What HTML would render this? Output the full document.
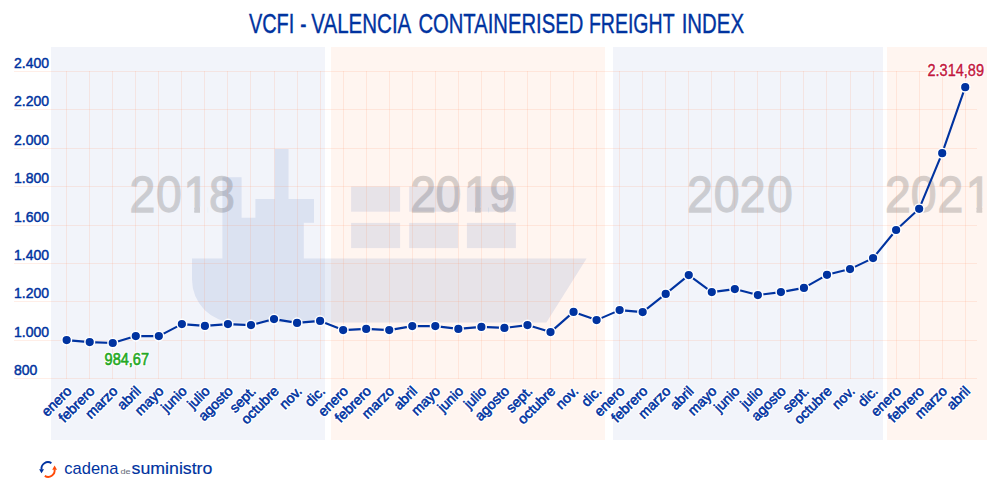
<!DOCTYPE html>
<html lang="es"><head><meta charset="utf-8"><title>VCFI - Valencia Containerised Freight Index</title>
<style>html,body{margin:0;padding:0;background:#fff}body{width:1000px;height:500px;overflow:hidden}svg{display:block}text{font-family:"Liberation Sans",Arial,sans-serif}</style></head><body>
<svg width="1000" height="500" viewBox="0 0 1000 500">
<rect width="1000" height="500" fill="#fff"/>
<rect x="51" y="47" width="274" height="393" fill="#f2f4fa"/>
<rect x="331" y="47" width="274" height="393" fill="#fff5f0"/>
<rect x="613" y="47" width="270" height="393" fill="#f2f4fa"/>
<rect x="887" y="47" width="100" height="393" fill="#fff5f0"/>
<defs><clipPath id="yc"><rect x="0" y="-60" width="1100" height="54.6"/><rect x="136.67" y="-6" width="29.55" height="9"/><rect x="164.78" y="-6" width="29.55" height="9"/><rect x="206.71" y="-6" width="6.06" height="9"/><rect x="221.16" y="-6" width="29.55" height="9"/><rect x="435.29" y="-6" width="29.55" height="9"/><rect x="462.22" y="-6" width="29.55" height="9"/><rect x="505.32" y="-6" width="6.06" height="9"/><rect x="519.60" y="-6" width="29.55" height="9"/><rect x="729.75" y="-6" width="29.55" height="9"/><rect x="758.29" y="-6" width="29.55" height="9"/><rect x="786.03" y="-6" width="29.55" height="9"/><rect x="814.88" y="-6" width="29.55" height="9"/><rect x="940.50" y="-6" width="29.55" height="9"/><rect x="967.86" y="-6" width="29.55" height="9"/><rect x="996.35" y="-6" width="29.55" height="9"/><rect x="1038.83" y="-6" width="6.06" height="9"/></clipPath></defs>
<g transform="translate(0,211.8) scale(0.94,1)" font-size="49.3" fill="#000" stroke="#000" stroke-width="1.3" opacity="0.155"><g clip-path="url(#yc)">
<text x="137.73 165.84 195.16 222.22" y="0">2018</text>
<text x="436.35 463.29 493.78 520.67" y="0">2019</text>
<text x="730.82 759.35 787.10 815.95" y="0">2020</text>
<text x="941.56 968.93 997.41 1027.29" y="0">2021</text>
</g></g>
<g fill="#0033a0" fill-opacity="0.095"><path d="M192,258.4 L222.4,258.4 L222.4,177.2 L241.6,177.2 L241.6,217.8 L255.4,217.8 L255.4,199.1 L274.7,199.1 L274.7,149.1 L288.5,149.1 L288.5,199.1 L314,199.1 L314,222.7 L303.8,222.7 L303.8,258.4 L586.6,258.4 L546.4,322.6 L235,322.6 A43,43 0 0 1 192,279.6 Z"/>
<rect x="351.1" y="186.5" width="49" height="25.2"/>
<rect x="351.1" y="222.9" width="49" height="25.2"/>
<rect x="409.2" y="186.5" width="49" height="25.2"/>
<rect x="409.2" y="222.9" width="49" height="25.2"/>
<rect x="466.9" y="186.5" width="49" height="25.2"/>
<rect x="466.9" y="222.9" width="49" height="25.2"/>
</g>
<g stroke="#ff9067" stroke-opacity="0.155" stroke-width="1" fill="none" shape-rendering="crispEdges">
<line x1="14" y1="71.5" x2="977" y2="71.5"/>
<line x1="14" y1="109.5" x2="977" y2="109.5"/>
<line x1="14" y1="148.5" x2="977" y2="148.5"/>
<line x1="14" y1="186.5" x2="977" y2="186.5"/>
<line x1="14" y1="225.5" x2="977" y2="225.5"/>
<line x1="14" y1="263.5" x2="977" y2="263.5"/>
<line x1="14" y1="301.5" x2="977" y2="301.5"/>
<line x1="14" y1="340.5" x2="977" y2="340.5"/>
<line x1="14" y1="378.5" x2="977" y2="378.5"/>
<line x1="66.5" y1="71" x2="66.5" y2="379"/>
<line x1="89.5" y1="71" x2="89.5" y2="379"/>
<line x1="112.5" y1="71" x2="112.5" y2="379"/>
<line x1="135.5" y1="71" x2="135.5" y2="379"/>
<line x1="158.5" y1="71" x2="158.5" y2="379"/>
<line x1="181.5" y1="71" x2="181.5" y2="379"/>
<line x1="204.5" y1="71" x2="204.5" y2="379"/>
<line x1="227.5" y1="71" x2="227.5" y2="379"/>
<line x1="250.5" y1="71" x2="250.5" y2="379"/>
<line x1="274.5" y1="71" x2="274.5" y2="379"/>
<line x1="297.5" y1="71" x2="297.5" y2="379"/>
<line x1="320.5" y1="71" x2="320.5" y2="379"/>
<line x1="343.5" y1="71" x2="343.5" y2="379"/>
<line x1="366.5" y1="71" x2="366.5" y2="379"/>
<line x1="389.5" y1="71" x2="389.5" y2="379"/>
<line x1="412.5" y1="71" x2="412.5" y2="379"/>
<line x1="435.5" y1="71" x2="435.5" y2="379"/>
<line x1="458.5" y1="71" x2="458.5" y2="379"/>
<line x1="481.5" y1="71" x2="481.5" y2="379"/>
<line x1="504.5" y1="71" x2="504.5" y2="379"/>
<line x1="527.5" y1="71" x2="527.5" y2="379"/>
<line x1="550.5" y1="71" x2="550.5" y2="379"/>
<line x1="573.5" y1="71" x2="573.5" y2="379"/>
<line x1="596.5" y1="71" x2="596.5" y2="379"/>
<line x1="619.5" y1="71" x2="619.5" y2="379"/>
<line x1="642.5" y1="71" x2="642.5" y2="379"/>
<line x1="665.5" y1="71" x2="665.5" y2="379"/>
<line x1="688.5" y1="71" x2="688.5" y2="379"/>
<line x1="711.5" y1="71" x2="711.5" y2="379"/>
<line x1="734.5" y1="71" x2="734.5" y2="379"/>
<line x1="757.5" y1="71" x2="757.5" y2="379"/>
<line x1="780.5" y1="71" x2="780.5" y2="379"/>
<line x1="803.5" y1="71" x2="803.5" y2="379"/>
<line x1="826.5" y1="71" x2="826.5" y2="379"/>
<line x1="850.5" y1="71" x2="850.5" y2="379"/>
<line x1="873.5" y1="71" x2="873.5" y2="379"/>
<line x1="896.5" y1="71" x2="896.5" y2="379"/>
<line x1="919.5" y1="71" x2="919.5" y2="379"/>
<line x1="942.5" y1="71" x2="942.5" y2="379"/>
<line x1="965.5" y1="71" x2="965.5" y2="379"/>
</g>
<g font-size="28" fill="#0033a0" stroke="#0033a0" stroke-width="0.4">
<text x="248.9" y="32.6" textLength="45.4" lengthAdjust="spacingAndGlyphs">VCFI</text>
<text x="300.2" y="32.6" textLength="6.2" lengthAdjust="spacingAndGlyphs">-</text>
<text x="311.3" y="32.6" textLength="100.0" lengthAdjust="spacingAndGlyphs">VALENCIA</text>
<text x="418.4" y="32.6" textLength="164.9" lengthAdjust="spacingAndGlyphs">CONTAINERISED</text>
<text x="588.9" y="32.6" textLength="85.7" lengthAdjust="spacingAndGlyphs">FREIGHT</text>
<text x="681.7" y="32.6" textLength="62.3" lengthAdjust="spacingAndGlyphs">INDEX</text>
</g>
<g font-size="14" fill="#0033a0" stroke="#0033a0" stroke-width="0.45">
<text x="14" y="68.10">2.400</text>
<text x="14" y="106.10">2.200</text>
<text x="14" y="145.10">2.000</text>
<text x="14" y="183.10">1.800</text>
<text x="14" y="222.10">1.600</text>
<text x="14" y="260.10">1.400</text>
<text x="14" y="298.10">1.200</text>
<text x="14" y="337.10">1.000</text>
<text x="14" y="375.10">800</text>
</g>
<g font-size="14" text-anchor="end">
<g transform="translate(72.47,392) rotate(-45)"><text fill="#fff" stroke="#fff" stroke-width="3" stroke-linejoin="round">enero</text><text fill="#0033a0" stroke="#0033a0" stroke-width="0.55">enero</text></g>
<g transform="translate(95.51,392) rotate(-45)"><text fill="#fff" stroke="#fff" stroke-width="3" stroke-linejoin="round">febrero</text><text fill="#0033a0" stroke="#0033a0" stroke-width="0.55">febrero</text></g>
<g transform="translate(118.55,392) rotate(-45)"><text fill="#fff" stroke="#fff" stroke-width="3" stroke-linejoin="round">marzo</text><text fill="#0033a0" stroke="#0033a0" stroke-width="0.55">marzo</text></g>
<g transform="translate(141.59,392) rotate(-45)"><text fill="#fff" stroke="#fff" stroke-width="3" stroke-linejoin="round">abril</text><text fill="#0033a0" stroke="#0033a0" stroke-width="0.55">abril</text></g>
<g transform="translate(164.63,392) rotate(-45)"><text fill="#fff" stroke="#fff" stroke-width="3" stroke-linejoin="round">mayo</text><text fill="#0033a0" stroke="#0033a0" stroke-width="0.55">mayo</text></g>
<g transform="translate(187.67,392) rotate(-45)"><text fill="#fff" stroke="#fff" stroke-width="3" stroke-linejoin="round">junio</text><text fill="#0033a0" stroke="#0033a0" stroke-width="0.55">junio</text></g>
<g transform="translate(210.71,392) rotate(-45)"><text fill="#fff" stroke="#fff" stroke-width="3" stroke-linejoin="round">julio</text><text fill="#0033a0" stroke="#0033a0" stroke-width="0.55">julio</text></g>
<g transform="translate(233.75,392) rotate(-45)"><text fill="#fff" stroke="#fff" stroke-width="3" stroke-linejoin="round">agosto</text><text fill="#0033a0" stroke="#0033a0" stroke-width="0.55">agosto</text></g>
<g transform="translate(256.79,392) rotate(-45)"><text fill="#fff" stroke="#fff" stroke-width="3" stroke-linejoin="round">sept.</text><text fill="#0033a0" stroke="#0033a0" stroke-width="0.55">sept.</text></g>
<g transform="translate(279.83,392) rotate(-45)"><text fill="#fff" stroke="#fff" stroke-width="3" stroke-linejoin="round">octubre</text><text fill="#0033a0" stroke="#0033a0" stroke-width="0.55">octubre</text></g>
<g transform="translate(302.87,392) rotate(-45)"><text fill="#fff" stroke="#fff" stroke-width="3" stroke-linejoin="round">nov.</text><text fill="#0033a0" stroke="#0033a0" stroke-width="0.55">nov.</text></g>
<g transform="translate(325.91,392) rotate(-45)"><text fill="#fff" stroke="#fff" stroke-width="3" stroke-linejoin="round">dic.</text><text fill="#0033a0" stroke="#0033a0" stroke-width="0.55">dic.</text></g>
<g transform="translate(348.95,392) rotate(-45)"><text fill="#fff" stroke="#fff" stroke-width="3" stroke-linejoin="round">enero</text><text fill="#0033a0" stroke="#0033a0" stroke-width="0.55">enero</text></g>
<g transform="translate(371.99,392) rotate(-45)"><text fill="#fff" stroke="#fff" stroke-width="3" stroke-linejoin="round">febrero</text><text fill="#0033a0" stroke="#0033a0" stroke-width="0.55">febrero</text></g>
<g transform="translate(395.03,392) rotate(-45)"><text fill="#fff" stroke="#fff" stroke-width="3" stroke-linejoin="round">marzo</text><text fill="#0033a0" stroke="#0033a0" stroke-width="0.55">marzo</text></g>
<g transform="translate(418.07,392) rotate(-45)"><text fill="#fff" stroke="#fff" stroke-width="3" stroke-linejoin="round">abril</text><text fill="#0033a0" stroke="#0033a0" stroke-width="0.55">abril</text></g>
<g transform="translate(441.11,392) rotate(-45)"><text fill="#fff" stroke="#fff" stroke-width="3" stroke-linejoin="round">mayo</text><text fill="#0033a0" stroke="#0033a0" stroke-width="0.55">mayo</text></g>
<g transform="translate(464.15,392) rotate(-45)"><text fill="#fff" stroke="#fff" stroke-width="3" stroke-linejoin="round">junio</text><text fill="#0033a0" stroke="#0033a0" stroke-width="0.55">junio</text></g>
<g transform="translate(487.19,392) rotate(-45)"><text fill="#fff" stroke="#fff" stroke-width="3" stroke-linejoin="round">julio</text><text fill="#0033a0" stroke="#0033a0" stroke-width="0.55">julio</text></g>
<g transform="translate(510.23,392) rotate(-45)"><text fill="#fff" stroke="#fff" stroke-width="3" stroke-linejoin="round">agosto</text><text fill="#0033a0" stroke="#0033a0" stroke-width="0.55">agosto</text></g>
<g transform="translate(533.27,392) rotate(-45)"><text fill="#fff" stroke="#fff" stroke-width="3" stroke-linejoin="round">sept.</text><text fill="#0033a0" stroke="#0033a0" stroke-width="0.55">sept.</text></g>
<g transform="translate(556.31,392) rotate(-45)"><text fill="#fff" stroke="#fff" stroke-width="3" stroke-linejoin="round">octubre</text><text fill="#0033a0" stroke="#0033a0" stroke-width="0.55">octubre</text></g>
<g transform="translate(579.35,392) rotate(-45)"><text fill="#fff" stroke="#fff" stroke-width="3" stroke-linejoin="round">nov.</text><text fill="#0033a0" stroke="#0033a0" stroke-width="0.55">nov.</text></g>
<g transform="translate(602.39,392) rotate(-45)"><text fill="#fff" stroke="#fff" stroke-width="3" stroke-linejoin="round">dic.</text><text fill="#0033a0" stroke="#0033a0" stroke-width="0.55">dic.</text></g>
<g transform="translate(625.43,392) rotate(-45)"><text fill="#fff" stroke="#fff" stroke-width="3" stroke-linejoin="round">enero</text><text fill="#0033a0" stroke="#0033a0" stroke-width="0.55">enero</text></g>
<g transform="translate(648.47,392) rotate(-45)"><text fill="#fff" stroke="#fff" stroke-width="3" stroke-linejoin="round">febrero</text><text fill="#0033a0" stroke="#0033a0" stroke-width="0.55">febrero</text></g>
<g transform="translate(671.51,392) rotate(-45)"><text fill="#fff" stroke="#fff" stroke-width="3" stroke-linejoin="round">marzo</text><text fill="#0033a0" stroke="#0033a0" stroke-width="0.55">marzo</text></g>
<g transform="translate(694.55,392) rotate(-45)"><text fill="#fff" stroke="#fff" stroke-width="3" stroke-linejoin="round">abril</text><text fill="#0033a0" stroke="#0033a0" stroke-width="0.55">abril</text></g>
<g transform="translate(717.59,392) rotate(-45)"><text fill="#fff" stroke="#fff" stroke-width="3" stroke-linejoin="round">mayo</text><text fill="#0033a0" stroke="#0033a0" stroke-width="0.55">mayo</text></g>
<g transform="translate(740.63,392) rotate(-45)"><text fill="#fff" stroke="#fff" stroke-width="3" stroke-linejoin="round">junio</text><text fill="#0033a0" stroke="#0033a0" stroke-width="0.55">junio</text></g>
<g transform="translate(763.67,392) rotate(-45)"><text fill="#fff" stroke="#fff" stroke-width="3" stroke-linejoin="round">julio</text><text fill="#0033a0" stroke="#0033a0" stroke-width="0.55">julio</text></g>
<g transform="translate(786.71,392) rotate(-45)"><text fill="#fff" stroke="#fff" stroke-width="3" stroke-linejoin="round">agosto</text><text fill="#0033a0" stroke="#0033a0" stroke-width="0.55">agosto</text></g>
<g transform="translate(809.75,392) rotate(-45)"><text fill="#fff" stroke="#fff" stroke-width="3" stroke-linejoin="round">sept.</text><text fill="#0033a0" stroke="#0033a0" stroke-width="0.55">sept.</text></g>
<g transform="translate(832.79,392) rotate(-45)"><text fill="#fff" stroke="#fff" stroke-width="3" stroke-linejoin="round">octubre</text><text fill="#0033a0" stroke="#0033a0" stroke-width="0.55">octubre</text></g>
<g transform="translate(855.83,392) rotate(-45)"><text fill="#fff" stroke="#fff" stroke-width="3" stroke-linejoin="round">nov.</text><text fill="#0033a0" stroke="#0033a0" stroke-width="0.55">nov.</text></g>
<g transform="translate(878.87,392) rotate(-45)"><text fill="#fff" stroke="#fff" stroke-width="3" stroke-linejoin="round">dic.</text><text fill="#0033a0" stroke="#0033a0" stroke-width="0.55">dic.</text></g>
<g transform="translate(901.91,392) rotate(-45)"><text fill="#fff" stroke="#fff" stroke-width="3" stroke-linejoin="round">enero</text><text fill="#0033a0" stroke="#0033a0" stroke-width="0.55">enero</text></g>
<g transform="translate(924.95,392) rotate(-45)"><text fill="#fff" stroke="#fff" stroke-width="3" stroke-linejoin="round">febrero</text><text fill="#0033a0" stroke="#0033a0" stroke-width="0.55">febrero</text></g>
<g transform="translate(947.99,392) rotate(-45)"><text fill="#fff" stroke="#fff" stroke-width="3" stroke-linejoin="round">marzo</text><text fill="#0033a0" stroke="#0033a0" stroke-width="0.55">marzo</text></g>
<g transform="translate(971.03,392) rotate(-45)"><text fill="#fff" stroke="#fff" stroke-width="3" stroke-linejoin="round">abril</text><text fill="#0033a0" stroke="#0033a0" stroke-width="0.55">abril</text></g>
</g>
<polyline points="66.67,340.1 89.71,342.1 112.75,343.0 135.79,336.1 158.83,336.1 181.87,324.1 204.91,325.9 227.95,324.1 250.99,325.1 274.03,319.1 297.07,322.9 320.11,320.9 343.15,330.1 366.19,328.9 389.23,330.1 412.27,326.1 435.31,326.1 458.35,328.9 481.39,326.9 504.43,327.9 527.47,325.1 550.51,332.1 573.55,311.9 596.59,320.1 619.63,310.1 642.67,312.1 665.71,293.9 688.75,275.1 711.79,292.1 734.83,289.1 757.87,295.1 780.91,292.1 803.95,287.9 826.99,274.8 850.03,269.1 873.07,258.1 896.11,230.0 919.15,208.8 942.19,153.2 965.23,87.2" fill="none" stroke="#0033a0" stroke-width="2.1" stroke-linejoin="round"/>
<g fill="#0033a0" stroke="#fff" stroke-width="1.5">
<circle cx="66.67" cy="340.1" r="4.85"/>
<circle cx="89.71" cy="342.1" r="4.85"/>
<circle cx="112.75" cy="343.0" r="4.85"/>
<circle cx="135.79" cy="336.1" r="4.85"/>
<circle cx="158.83" cy="336.1" r="4.85"/>
<circle cx="181.87" cy="324.1" r="4.85"/>
<circle cx="204.91" cy="325.9" r="4.85"/>
<circle cx="227.95" cy="324.1" r="4.85"/>
<circle cx="250.99" cy="325.1" r="4.85"/>
<circle cx="274.03" cy="319.1" r="4.85"/>
<circle cx="297.07" cy="322.9" r="4.85"/>
<circle cx="320.11" cy="320.9" r="4.85"/>
<circle cx="343.15" cy="330.1" r="4.85"/>
<circle cx="366.19" cy="328.9" r="4.85"/>
<circle cx="389.23" cy="330.1" r="4.85"/>
<circle cx="412.27" cy="326.1" r="4.85"/>
<circle cx="435.31" cy="326.1" r="4.85"/>
<circle cx="458.35" cy="328.9" r="4.85"/>
<circle cx="481.39" cy="326.9" r="4.85"/>
<circle cx="504.43" cy="327.9" r="4.85"/>
<circle cx="527.47" cy="325.1" r="4.85"/>
<circle cx="550.51" cy="332.1" r="4.85"/>
<circle cx="573.55" cy="311.9" r="4.85"/>
<circle cx="596.59" cy="320.1" r="4.85"/>
<circle cx="619.63" cy="310.1" r="4.85"/>
<circle cx="642.67" cy="312.1" r="4.85"/>
<circle cx="665.71" cy="293.9" r="4.85"/>
<circle cx="688.75" cy="275.1" r="4.85"/>
<circle cx="711.79" cy="292.1" r="4.85"/>
<circle cx="734.83" cy="289.1" r="4.85"/>
<circle cx="757.87" cy="295.1" r="4.85"/>
<circle cx="780.91" cy="292.1" r="4.85"/>
<circle cx="803.95" cy="287.9" r="4.85"/>
<circle cx="826.99" cy="274.8" r="4.85"/>
<circle cx="850.03" cy="269.1" r="4.85"/>
<circle cx="873.07" cy="258.1" r="4.85"/>
<circle cx="896.11" cy="230.0" r="4.85"/>
<circle cx="919.15" cy="208.8" r="4.85"/>
<circle cx="942.19" cy="153.2" r="4.85"/>
<circle cx="965.23" cy="87.2" r="4.85"/>
</g>
<text x="104.6" y="365" font-size="16" fill="#fff" stroke="#fff" stroke-width="2.6" stroke-linejoin="round" textLength="44.4" lengthAdjust="spacingAndGlyphs">984,67</text>
<text x="104.6" y="365" font-size="16" fill="#24a824" stroke="#24a824" stroke-width="0.6" textLength="44.4" lengthAdjust="spacingAndGlyphs">984,67</text>
<text x="927.5" y="76" font-size="16" fill="#fff" stroke="#fff" stroke-width="2.6" stroke-linejoin="round" textLength="56.5" lengthAdjust="spacingAndGlyphs">2.314,89</text>
<text x="927.5" y="76" font-size="16" fill="#c4183c" stroke="#c4183c" stroke-width="0.38" textLength="56.5" lengthAdjust="spacingAndGlyphs">2.314,89</text>
<path d="M51.4,463.1 A6.5,6.5 0 0 0 41.55,469.6" fill="none" stroke="#0033a0" stroke-width="1.9"/>
<path d="M39.1,469.2 L44.0,469.2 L41.5,473.3 Z" fill="#0033a0"/>
<path d="M44.8,475.9 A6.5,6.5 0 0 0 54.6,469.4" fill="none" stroke="#ff4a08" stroke-width="1.9"/>
<path d="M52.2,469.8 L57.0,469.8 L54.6,465.6 Z" fill="#ff4a08"/>
<text x="64.3" y="474" font-size="16.2" fill="#0033a0" textLength="54.2" lengthAdjust="spacingAndGlyphs">cadena</text>
<text x="120.4" y="474" font-size="7" fill="#666d7a" textLength="10.2" lengthAdjust="spacingAndGlyphs">de</text>
<text x="131.6" y="474" font-size="16.2" fill="#0033a0" stroke="#0033a0" stroke-width="0.15" textLength="80.8" lengthAdjust="spacingAndGlyphs">suministro</text>
</svg></body></html>
